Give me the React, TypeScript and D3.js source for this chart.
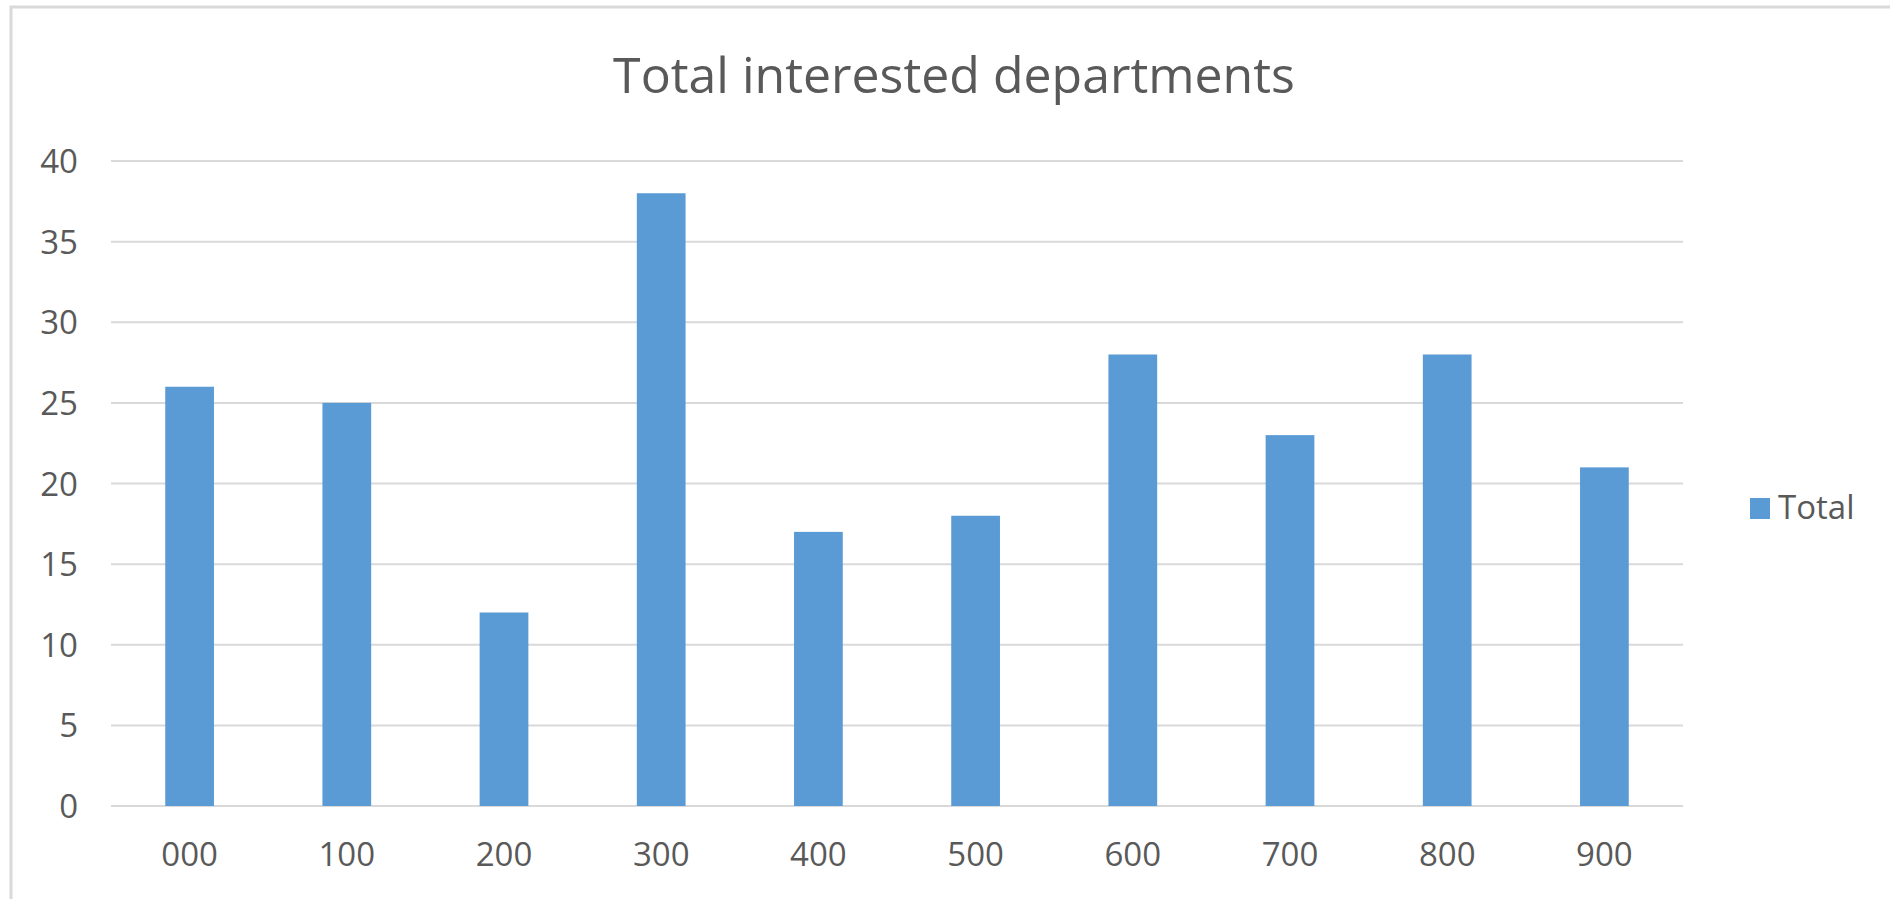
import React from "react";
import * as d3 from "d3";

const categories = ["000", "100", "200", "300", "400", "500", "600", "700", "800", "900"];
const totals = [26, 25, 12, 38, 17, 18, 28, 23, 28, 21];
const yTicks = [0, 5, 10, 15, 20, 25, 30, 35, 40];
const chartTitle = "Total interested departments";
const seriesName = "Total";

const W = 1890;
const H = 899;
const plot = { left: 111, right: 1683, top: 161, bottom: 806 };
const FONT = "'Open Sans', 'Noto Sans', sans-serif";
const TEXT = "#595959";
const BAR = "#5b9bd5";
const GRID = "#d9d9d9";

export default function App() {
  const x = d3
    .scaleBand<string>()
    .domain(categories)
    .range([plot.left, plot.right])
    .paddingInner(0.69)
    .paddingOuter(0.345);
  const y = d3.scaleLinear().domain([0, 40]).range([plot.bottom, plot.top]);

  return (
    <svg
      width={W}
      height={H}
      style={{ position: "absolute", left: 0, top: 0, display: "block", background: "#fff" }}
    >
      <rect x={11} y={7} width={W + 100} height={H + 100} fill="#fff" stroke={GRID} strokeWidth={3} />
      <text
        x={954}
        y={93}
        textAnchor="middle"
        fontFamily={FONT}
        fontSize={50}
        fill={TEXT}
      >
        {chartTitle}
      </text>
      {yTicks.map((t) => (
        <g key={t}>
          <line
            x1={plot.left}
            x2={plot.right}
            y1={y(t)}
            y2={y(t)}
            stroke={GRID}
            strokeWidth={2}
          />
          <text
            x={78}
            y={y(t) + 12}
            textAnchor="end"
            fontFamily={FONT}
            fontSize={33}
            fill={TEXT}
          >
            {t}
          </text>
        </g>
      ))}
      {categories.map((c, i) => (
        <g key={c}>
          <rect
            x={x(c)}
            y={y(totals[i])}
            width={x.bandwidth()}
            height={y(0) - y(totals[i])}
            fill={BAR}
          />
          <text
            x={(x(c) as number) + x.bandwidth() / 2}
            y={866}
            textAnchor="middle"
            fontFamily={FONT}
            fontSize={33}
            fill={TEXT}
          >
            {c}
          </text>
        </g>
      ))}
      <rect x={1750} y={498} width={20} height={21} fill={BAR} />
      <text x={1778} y={519} fontFamily={FONT} fontSize={33} fill={TEXT}>
        {seriesName}
      </text>
    </svg>
  );
}
